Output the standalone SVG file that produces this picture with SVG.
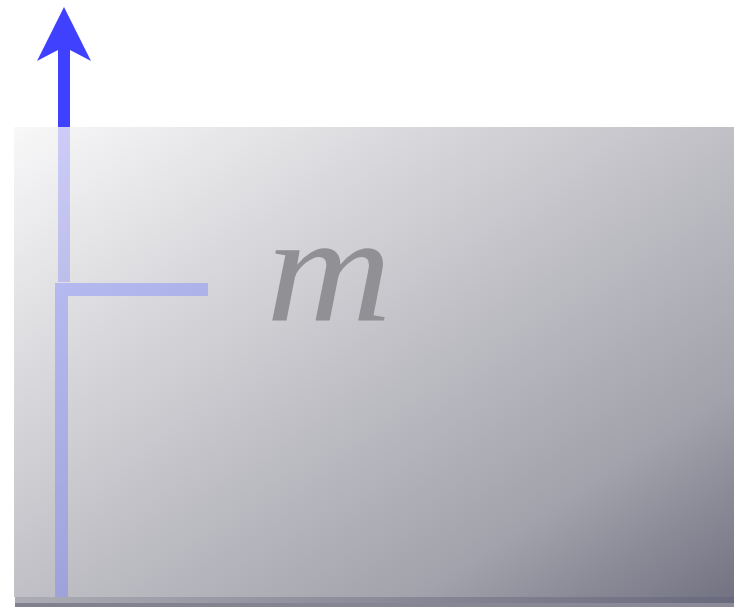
<svg xmlns="http://www.w3.org/2000/svg" width="734" height="607" viewBox="0 0 734 607">
  <defs>
    <linearGradient id="boxGrad" x1="0" y1="0" x2="1" y2="1">
      <stop offset="0" stop-color="#f8f8f9"/>
      <stop offset="0.5" stop-color="#c0c0c6"/>
      <stop offset="0.78" stop-color="#a2a2ac"/>
      <stop offset="1" stop-color="#727282"/>
    </linearGradient>
    <linearGradient id="baseTop" x1="0" y1="0" x2="1" y2="0">
      <stop offset="0" stop-color="#acacb4"/>
      <stop offset="1" stop-color="#6a6a7e"/>
    </linearGradient>
    <linearGradient id="baseBot" x1="0" y1="0" x2="1" y2="0">
      <stop offset="0" stop-color="#80808e"/>
      <stop offset="1" stop-color="#8a8a98"/>
    </linearGradient>
  </defs>
  <style>
    .arrow { fill: #4040ff; }
    .bracket { fill: #7080ff; fill-opacity: 0.4; }
    .label { font-family: "Liberation Serif", "DejaVu Serif", serif; font-style: italic; fill: #909095; }
  </style>
  <rect width="734" height="607" fill="#ffffff"/>

  <g id="block">
    <rect x="14" y="127" width="720" height="470" fill="url(#boxGrad)"/>
    <rect x="15" y="597" width="719" height="6" fill="url(#baseTop)"/>
    <rect x="15" y="603" width="719" height="4" fill="url(#baseBot)"/>
    <text class="label" x="266" y="320" font-size="152" textLength="126" lengthAdjust="spacingAndGlyphs">m</text>
  </g>

  <g id="connectors">
    <g id="force-arrow">
      <polygon class="arrow" points="64,7 91,61 70,50 70,127 58,127 58,50 37,61"/>
      <rect x="58" y="127" width="12" height="155" fill="#4040ff" fill-opacity="0.22"/>
    </g>
    <g id="bracket">
      <rect class="bracket" x="55" y="283" width="153" height="13"/>
      <rect class="bracket" x="55" y="296" width="13" height="301"/>
    </g>
  </g>
</svg>
